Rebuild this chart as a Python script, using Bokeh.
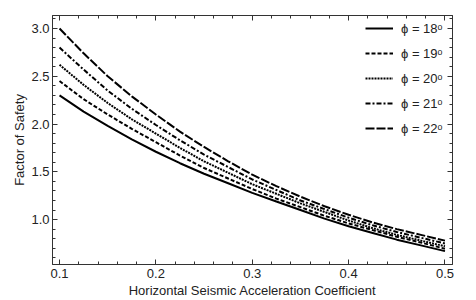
from bokeh.plotting import figure
from bokeh.models import Range1d, FixedTicker, LinearAxis, Legend, LegendItem, PrintfTickFormatter
from bokeh.embed import file_html
from bokeh.resources import INLINE

# ---- data ----
kh = [0.100, 0.125, 0.150, 0.175, 0.200, 0.225, 0.250, 0.275, 0.300,
      0.325, 0.350, 0.375, 0.400, 0.425, 0.450, 0.475, 0.500]
fs_18 = [2.30, 2.13, 1.98, 1.84, 1.71, 1.59, 1.48, 1.38, 1.28,
         1.19, 1.10, 1.01, 0.93, 0.86, 0.79, 0.73, 0.67]
fs_19 = [2.45, 2.26, 2.10, 1.95, 1.81, 1.67, 1.54, 1.43, 1.32,
         1.22, 1.13, 1.04, 0.96, 0.89, 0.82, 0.76, 0.695]
fs_20 = [2.62, 2.41, 2.22, 2.05, 1.90, 1.75, 1.61, 1.49, 1.37,
         1.27, 1.17, 1.08, 0.99, 0.91, 0.84, 0.78, 0.72]
fs_21 = [2.80, 2.57, 2.35, 2.16, 1.99, 1.83, 1.68, 1.55, 1.42,
         1.31, 1.20, 1.11, 1.02, 0.94, 0.87, 0.81, 0.75]
fs_22 = [3.00, 2.74, 2.50, 2.29, 2.10, 1.92, 1.76, 1.61, 1.47,
         1.35, 1.24, 1.14, 1.05, 0.97, 0.90, 0.84, 0.78]
series_labels = ["\u03d5 = 18\u1d52", "\u03d5 = 19\u1d52", "\u03d5 = 20\u1d52",
                 "\u03d5 = 21\u1d52", "\u03d5 = 22\u1d52"]
x_ticks = [0.1, 0.2, 0.3, 0.4, 0.5]
x_minor = [round(0.1 + 0.02 * i, 2) for i in range(21)]
y_ticks = [1.0, 1.5, 2.0, 2.5, 3.0]
y_minor = [round(0.6 + 0.1 * i, 1) for i in range(26)]

W, H = 476, 300
BL, BR, BT, BB = 52, 24, 15, 36
FRAME_H = H - BT - BB

p = figure(width=W, height=H, output_backend="svg", toolbar_location=None,
           x_range=Range1d(0.0927, 0.5078), y_range=Range1d(0.53, 3.136),
           min_border_left=BL, min_border_right=BR, min_border_top=BT,
           min_border_bottom=BB, x_axis_label="Horizontal Seismic Acceleration Coefficient",
           y_axis_label="Factor of Safety")
p.grid.visible = False
p.outline_line_color = "#333333"
p.background_fill_color = "white"
p.border_fill_color = "white"

FONT = "Liberation Sans"
TXT = "#222222"


def style_axis(ax, show_labels=True):
    ax.axis_line_color = "#333333"
    ax.major_tick_line_color = "#333333"
    ax.minor_tick_line_color = "#333333"
    ax.major_tick_in = 5
    ax.major_tick_out = 0
    ax.minor_tick_in = 3
    ax.minor_tick_out = 0
    ax.major_label_text_font = FONT
    ax.major_label_text_color = TXT
    ax.major_label_text_font_size = "13px"
    ax.axis_label_text_font = FONT
    ax.axis_label_text_font_style = "normal"
    ax.axis_label_text_font_size = "13px"
    ax.axis_label_text_color = TXT
    ax.formatter = PrintfTickFormatter(format="%.1f")
    if show_labels:
        ax.major_label_standoff = 3
        ax.axis_label_standoff = 2
    else:
        ax.major_label_overrides = {t: "" for t in ax.ticker.ticks}
        ax.major_label_standoff = 0


p.xaxis.ticker = FixedTicker(ticks=x_ticks, minor_ticks=x_minor)
p.yaxis.ticker = FixedTicker(ticks=y_ticks, minor_ticks=y_minor)
for ax in p.xaxis + p.yaxis:
    style_axis(ax)
p.xaxis.major_label_standoff = 4
p.xaxis.axis_label_standoff = 2
p.yaxis.axis_label_standoff = 1

top_ax = LinearAxis(ticker=FixedTicker(ticks=x_ticks, minor_ticks=x_minor))
right_ax = LinearAxis(ticker=FixedTicker(ticks=y_ticks, minor_ticks=y_minor))
style_axis(top_ax, False)
style_axis(right_ax, False)
p.add_layout(top_ax, "above")
p.add_layout(right_ax, "right")

series = [fs_18, fs_19, fs_20, fs_21, fs_22]
dashes = ["solid", "4 2", "2 1", "5 2 2 2", "9 2"]
items = []
for ys, dash, lab in zip(series, dashes, series_labels):
    r = p.line(kh, ys, line_color="black", line_width=2, line_dash=dash)
    items.append(LegendItem(label=lab, renderers=[r]))

legend = Legend(items=items, location=(313, FRAME_H - 2 - 122), margin=0, padding=0,
                glyph_width=28, glyph_height=22, label_height=22, spacing=3,
                label_standoff=8, label_text_font=FONT, label_text_font_size="13px",
                label_text_color=TXT, border_line_color=None, background_fill_alpha=0)
p.add_layout(legend)

open("out.html", "w").write(file_html(p, INLINE))
